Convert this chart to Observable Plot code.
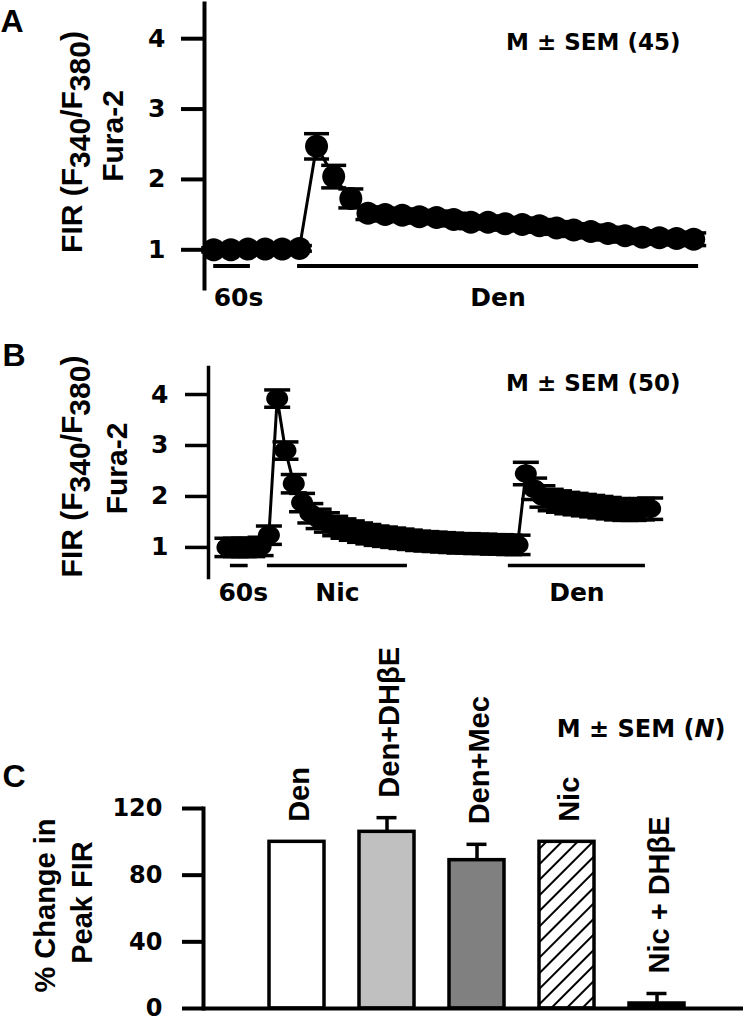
<!DOCTYPE html>
<html><head><meta charset="utf-8">
<script src="https://cdn.jsdelivr.net/npm/d3@7"></script>
<script src="https://cdn.jsdelivr.net/npm/@observablehq/plot@0.6"></script>
<style>
html,body{margin:0;padding:0;background:#fff;}
#root{width:750px;height:1022px;position:relative;overflow:hidden;background:#fff;}
#root svg{display:block;position:absolute;left:0;}
</style></head><body><div id="root"></div>
<script>
// ---------- Panel A: Den ----------
const timeA = [0,28,56,84,112,140,168,196,224,252,280,308,336,364,392,420,448,476,504,532,560,588,616,644,672,700,728,756,784];
const meanA = [1.00,1.00,1.01,1.01,1.01,1.02, 2.47,2.04,1.73, 1.52,1.50,1.49,1.47,1.46,1.43,1.39,1.39,1.37,1.36,1.34,1.31,1.28,1.26,1.23,1.20,1.18,1.17,1.16,1.15];
const semA  = [0.03,0.03,0.03,0.03,0.03,0.04, 0.18,0.16,0.135, 0.09,0.09,0.09,0.09,0.09,0.09,0.09,0.09,0.09,0.09,0.09,0.09,0.09,0.09,0.09,0.09,0.09,0.09,0.09,0.09];
const scaleBarA = {label: "60s", start: 0, end: 60};
const drugsA = [{label: "Den", start: 137, end: 792}];
const nA = "M ± SEM (45)";

// ---------- Panel B: Nic then Den ----------
const timeB = [0,28,56,84,112,140,168,196,224,252,280,308,336,364,392,420,448,476,504,532,560,588,616,644,672,700,728,756,784,812,840,868,896,924,952,980,1008,1036,1064,1092,1120,1148,1176,1204,1232,1260,1288,1316,1344,1372,1400,1428];
const meanB = [1.00,1.00,1.00,1.00,1.02,1.24, 3.92,2.90,2.25,1.88, 1.67,1.56,1.49,1.42,1.37,1.33,1.29,1.26,1.23,1.21, 1.19,1.17,1.15,1.13,1.12,1.11,1.10,1.09,1.08,1.08, 1.07,1.07,1.06,1.06,1.05,1.05, 2.45,2.15,2.00,1.93,1.90,1.87,1.85,1.83,1.81,1.79,1.77,1.75,1.74,1.74,1.75,1.76];
const semB  = [0.18,0.18,0.18,0.18,0.18,0.18, 0.17,0.17,0.18,0.18, 0.19,0.19,0.19,0.19,0.19,0.19,0.19,0.19,0.19,0.19, 0.19,0.19,0.19,0.19,0.19,0.19,0.19,0.19,0.19,0.19, 0.19,0.19,0.19,0.19,0.19,0.19, 0.22,0.21,0.21,0.21,0.21,0.21,0.21,0.21,0.21,0.21,0.21,0.21,0.21,0.21,0.21,0.21];
const scaleBarB = {label: "60s", start: 10, end: 70};
const drugsB = [{label: "Nic", start: 135, end: 608}, {label: "Den", start: 949, end: 1412}];
const nB = "M ± SEM (50)";

// ---------- Panel C: % change in peak FIR ----------
const conditions = ["Den", "Den+DHβE", "Den+Mec", "Nic", "Nic + DHβE"];
const pctMean = [100, 106, 89, 100, 3];
const pctSem  = [0, 8.5, 9.5, 0, 6];
const barFills = ["#ffffff", "#c0c0c0", "#808080", "url(#hatchNic)", "#000000"];
const nC = "M ± SEM (N)";

const yTicksTrace = [1, 2, 3, 4];
const yTicksC = [0, 40, 80, 120];
const yLabelTrace = ["FIR (F340/F380)", "Fura-2"];
const yLabelC = ["% Change in", "Peak FIR"];

const FH = "DejaVu Sans";      // horizontal text
const FR = "Liberation Sans";  // rotated text / panel letters
const svgNS = "http://www.w3.org/2000/svg";

function ellipseSymbol(ky) {
  return {draw(ctx, size) {
    const rx = Math.sqrt(size / Math.PI), ry = rx * ky, k = 0.5523;
    ctx.moveTo(rx, 0);
    ctx.bezierCurveTo(rx, ry * k, rx * k, ry, 0, ry);
    ctx.bezierCurveTo(-rx * k, ry, -rx, ry * k, -rx, 0);
    ctx.bezierCurveTo(-rx, -ry * k, -rx * k, -ry, 0, -ry);
    ctx.bezierCurveTo(rx * k, -ry, rx, -ry * k, rx, 0);
    ctx.closePath();
  }};
}
const capSymbol = {draw(ctx, size) {
  const w = Math.sqrt(size / Math.PI);
  ctx.moveTo(-w, 0); ctx.lineTo(w, 0);
}};

function tracePanel(cfg) {
  const data = cfg.time.map((t, i) => ({t, m: cfg.mean[i], s: cfg.sem[i]}));
  const txt = {fontFamily: FH, fontWeight: "bold", fontSize: 25, fill: "black", lineAnchor: "middle"};
  const rot = {fontFamily: FR, fontWeight: "bold", fontSize: 30, fill: "black", rotate: -90, frameAnchor: "left", textAnchor: "middle", lineAnchor: "middle"};
  return Plot.plot({
    width: 750, height: cfg.height,
    marginTop: cfg.mt, marginBottom: cfg.mb, marginLeft: cfg.ml, marginRight: cfg.mr,
    x: {domain: cfg.xDomain, axis: null},
    y: {domain: cfg.yDomain},
    style: {background: "white", color: "black", overflow: "visible"},
    marks: [
      Plot.frame({anchor: "left", strokeWidth: cfg.lw, stroke: "black"}),
      Plot.axisY({ticks: yTicksTrace, tickSize: 23, tickPadding: cfg.tp, tickFormat: d => String(d), label: null,
        strokeWidth: cfg.lw, fontFamily: FH, fontWeight: "bold", fontSize: 25}),
      Plot.ruleX(data, {x: "t", y1: d => d.m - d.s, y2: d => d.m + d.s, strokeWidth: 3, stroke: "black"}),
      Plot.dot(data, {x: "t", y: d => d.m + d.s, r: cfg.capR, symbol: capSymbol, stroke: "black", strokeWidth: 3.5, fill: "none"}),
      Plot.dot(data, {x: "t", y: d => d.m - d.s, r: cfg.capR, symbol: capSymbol, stroke: "black", strokeWidth: 3.5, fill: "none"}),
      Plot.line(data, {x: "t", y: "m", stroke: "black", strokeWidth: 3}),
      Plot.dot(data, {x: "t", y: "m", r: cfg.dotR, symbol: ellipseSymbol(cfg.ky), fill: "black", stroke: "none"}),
      Plot.ruleY([cfg.scaleBar, ...cfg.drugs], {x1: "start", x2: "end", y: () => cfg.barLevel, strokeWidth: cfg.lw, stroke: "black"}),
      Plot.text(cfg.drugs, {x: d => (d.start + d.end) / 2, y: () => cfg.labelLevel, text: "label", ...txt}),
      Plot.text([cfg.scaleBar], {x: "start", y: () => cfg.labelLevel, text: "label", textAnchor: "start", dx: cfg.sdx, ...txt}),
      Plot.text([cfg.n], {frameAnchor: "top-right", textAnchor: "end", dx: cfg.ndx, dy: cfg.ndy, ...txt, fontSize: 23}),
      Plot.text([cfg.letter], {frameAnchor: "top-left", textAnchor: "start", lineAnchor: "middle", dx: cfg.ldx, dy: cfg.ldy,
        fontFamily: FR, fontWeight: "bold", fontSize: 32, fill: "black"}),
      Plot.text([yLabelTrace[0]], {...rot, dx: cfg.y1dx, dy: cfg.y1dy}),
      Plot.text([yLabelTrace[1]], {...rot, dx: cfg.y2dx, dy: cfg.y2dy})
    ]
  });
}

const svgA = tracePanel({
  time: timeA, mean: meanA, sem: semA, scaleBar: scaleBarA, drugs: drugsA, n: nA, letter: "A",
  height: 320, mt: 3, mb: 32, ml: 204, mr: 47, xDomain: [-15, 800], yDomain: [0.45, 4.5],
  lw: 4, tp: 16, capR: 12.5, dotR: 11.5, ky: 1, barLevel: 0.77, labelLevel: 0.32, sdx: 0,
  ndx: -23, ndy: 39, ldx: -204, ldy: 18, y1dx: -132, y1dy: -4, y2dx: -91, y2dy: -10
});
const svgB = tracePanel({
  time: timeB, mean: meanB, sem: semB, scaleBar: scaleBarB, drugs: drugsB, n: nB, letter: "B",
  height: 320, mt: 47, mb: 63, ml: 208, mr: 95, xDomain: [-64, 1446], yDomain: [0.41, 4.53],
  lw: 3.5, tp: 17, capR: 13, dotR: 11, ky: 0.85, barLevel: 0.645, labelLevel: 0.097, sdx: -12,
  ndx: 25, ndy: 16, ldx: -206, ldy: -12, y1dx: -136, y1dy: -6, y2dx: -91, y2dy: -4
});

const cdata = conditions.map((c, i) => ({c, m: pctMean[i], s: pctSem[i]}));
const defsMark = () => {
  const defs = document.createElementNS(svgNS, "defs");
  defs.innerHTML = '<pattern id="hatchNic" patternUnits="userSpaceOnUse" width="11" height="11" patternTransform="rotate(45)">' +
    '<rect width="11" height="11" fill="white"/><line x1="0" y1="0" x2="0" y2="11" stroke="black" stroke-width="4"/></pattern>';
  return defs;
};
const rotC = {fontFamily: FR, fontWeight: "bold", fontSize: 29, fill: "black", rotate: -90, frameAnchor: "left", textAnchor: "middle", lineAnchor: "middle"};
const svgC = Plot.plot({
  width: 750, height: 382, marginTop: 168, marginBottom: 14, marginLeft: 203, marginRight: 7,
  x: {domain: conditions, range: [268, 685], paddingInner: 0.39, paddingOuter: 0, axis: null},
  y: {domain: [0, 120]},
  color: {domain: conditions, range: barFills},
  style: {background: "white", color: "black", overflow: "visible"},
  marks: [
    defsMark,
    Plot.barY(cdata, {x: "c", y: "m", fill: "c", stroke: "black", strokeWidth: 3.5}),
    Plot.ruleX(cdata.filter(d => d.s > 0), {x: "c", y1: "m", y2: d => d.m + d.s, stroke: "black", strokeWidth: 3.5}),
    Plot.tickY(cdata.filter(d => d.s > 0), {x: "c", y: d => d.m + d.s, insetLeft: 17.5, insetRight: 17.5, stroke: "black", strokeWidth: 3.5}),
    Plot.ruleY([0], {stroke: "black", strokeWidth: 4}),
    Plot.frame({anchor: "left", stroke: "black", strokeWidth: 4}),
    Plot.axisY({ticks: yTicksC, tickSize: 21, tickPadding: 20, tickFormat: d => String(d), label: null,
      strokeWidth: 4, fontFamily: FH, fontWeight: "bold", fontSize: 24}),
    Plot.text(cdata, {x: "c", y: d => d.m + d.s, text: "c", rotate: -90, textAnchor: "start", lineAnchor: "middle", dy: -20, dx: 3,
      fontFamily: FR, fontWeight: "bold", fontSize: 29, fill: "black"}),
    Plot.text([nC], {frameAnchor: "top-right", textAnchor: "end", lineAnchor: "middle", dx: -18, dy: -79,
      fontFamily: FH, fontWeight: "bold", fontSize: 24, fill: "black"}),
    Plot.text(["C"], {frameAnchor: "top-left", textAnchor: "start", lineAnchor: "middle", dx: -201, dy: -32,
      fontFamily: FR, fontWeight: "bold", fontSize: 32, fill: "black"}),
    Plot.text([yLabelC[0]], {...rotC, dx: -158, dy: -3}),
    Plot.text([yLabelC[1]], {...rotC, dx: -121, dy: -6})
  ]
});

// rich text: subscripts and italics
function rich(svg) {
  svg.querySelectorAll("text").forEach(t => {
    const s = t.textContent;
    let parts = null;
    if (s === "FIR (F340/F380)") parts = [["FIR (F"], ["340", "sub"], ["/F"], ["380", "sub"], [")"]];
    else if (s === "M ± SEM (N)") parts = [["M ± SEM ("], ["N", "it"], [")"]];
    if (!parts) return;
    while (t.firstChild) t.removeChild(t.firstChild);
    let shifted = false;
    for (const [str, kind] of parts) {
      const sp = document.createElementNS(svgNS, "tspan");
      sp.textContent = str;
      if (kind === "sub") { sp.setAttribute("dy", "0.27em"); shifted = true; }
      else if (shifted) { sp.setAttribute("dy", "-0.27em"); shifted = false; }
      if (kind === "it") sp.setAttribute("font-style", "italic");
      t.appendChild(sp);
    }
  });
}

const root = document.getElementById("root");
[[svgA, 0], [svgB, 320], [svgC, 640]].forEach(([svg, top]) => {
  rich(svg);
  svg.style.top = top + "px";
  root.appendChild(svg);
});
</script>
</body></html>
